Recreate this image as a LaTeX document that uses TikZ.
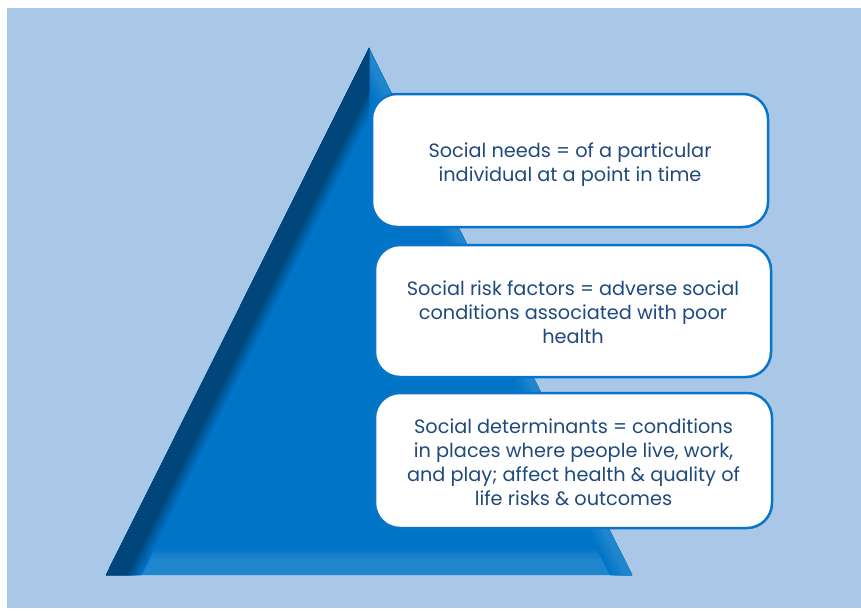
\documentclass[tikz,border=0pt]{standalone}
\usepackage{fontspec}
\setmainfont{Poppins}
\usetikzlibrary{calc}
\definecolor{bgblue}{HTML}{A9C8E7}
\definecolor{mainblue}{HTML}{0074C7}
\definecolor{darkblue}{HTML}{00467A}
\definecolor{lightblue}{HTML}{1F85CD}
\definecolor{boxline}{HTML}{0A74C8}
\definecolor{textblue}{HTML}{1F4A7E}
\tikzset{
	textbox/.style={draw=boxline, line width=2.5pt, fill=white, rounded corners=25pt,
		align=center, text=textblue, inner sep=0pt,
		font=\fontsize{19.3}{24}\selectfont}
}
\newcommand{\topstrut}{\rule{0pt}{24pt}}
\newcommand{\botstrut}{\rule[-6.5pt]{0pt}{6.5pt}}

\begin{document}
\begin{tikzpicture}[x=1pt,y=-1pt]
	\useasboundingbox (0,0) rectangle (861,610);
	% background panel
	\fill[bgblue] (7,8) rectangle (861,608);
	% pyramid corners
	\coordinate (apex) at (369,48);
	\coordinate (baseL) at (106,575);
	\coordinate (baseR) at (632,575);
	\fill[mainblue] (apex)--(baseL)--(baseR)--cycle;
	\begin{scope}
		\clip (apex)--(baseL)--(baseR)--cycle;
		% lighter strip along the base
		\foreach \k [evaluate=\k as \p using \k*10] in {0,...,10}
			\fill[lightblue!\p!mainblue] (0,{547+\k*1.2}) rectangle (861,575);
		% lighter strip along the right side
		\begin{scope}
			\clip (369,0) rectangle (861,610);
			\foreach \k [evaluate=\k as \p using \k*100/14, evaluate=\k as \w using 2*(20-\k)] in {0,...,14}
				\draw[line width=\w pt, lightblue!\p!mainblue] (apex)--(baseR);
		\end{scope}
		% dark shadow along the left side
		\begin{scope}
			\clip (0,0) rectangle (369,610);
			\foreach \k [evaluate=\k as \p using \k*100/13, evaluate=\k as \w using 2*(32-\k)] in {0,...,13}
				\draw[line width=\w pt, darkblue!\p!mainblue] (apex)--(baseL);
		\end{scope}
	\end{scope}
	% the three levels
	\node[textbox, minimum width=396pt, minimum height=133pt] (needs) at (570,160.5)
		{\topstrut Social needs = of a particular\\individual at a point in time};
	\node[textbox, minimum width=396pt, minimum height=132pt] (risks) at (573,311)
		{\topstrut Social risk factors = adverse social\\conditions associated with poor\\health\botstrut};
	\node[textbox, minimum width=397pt, minimum height=135pt] (determinants) at (573.5,460.5)
		{\topstrut Social determinants = conditions\\in places where people live, work,\\and play; affect health \& quality of\\life risks \& outcomes\botstrut};
\end{tikzpicture}
\end{document}
